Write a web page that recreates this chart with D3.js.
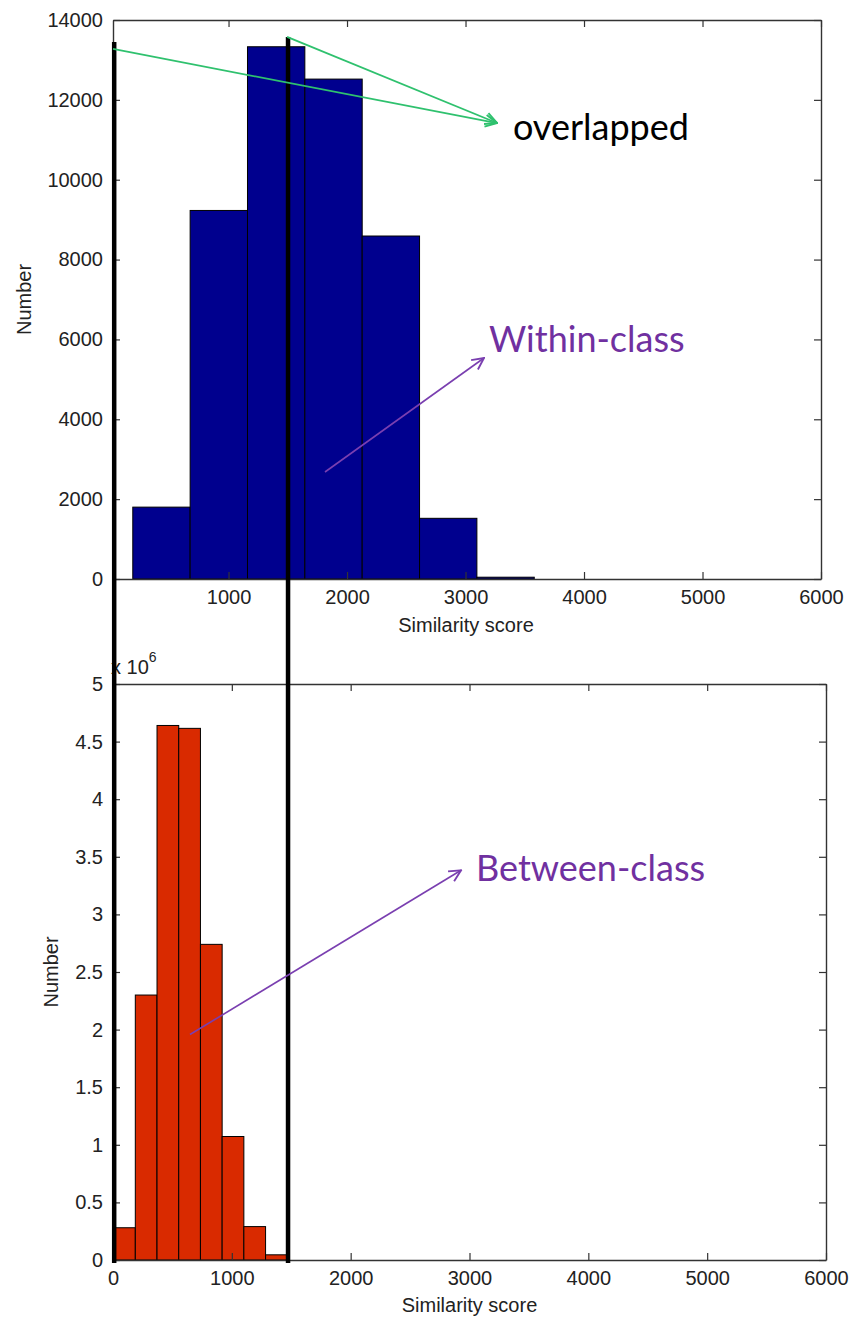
<!DOCTYPE html>
<html>
<head>
<meta charset="utf-8">
<script src="https://cdn.jsdelivr.net/npm/d3@7"></script>
<style>
  html, body { margin: 0; padding: 0; background: #fff; }
  svg { display: block; }
  .tick text { font-family: "Liberation Sans", Arial, sans-serif; font-size: 20px; fill: #222; }
  .axis-title { font-family: "Liberation Sans", Arial, sans-serif; font-size: 20px; fill: #222; }
  .note { font-family: Lato, "Open Sans", sans-serif; }
</style>
</head>
<body>
<svg id="fig" width="851" height="1322"></svg>
<script>
// ---- Within-class histogram (similarity scores of same-class pairs) ----
const withinStart = 192;      // left edge of first bin
const withinBinWidth = 484;   // bin width
const withinCounts = [1800, 9230, 13330, 12520, 8590, 1520, 45];
const withinYTicks = [0, 2000, 4000, 6000, 8000, 10000, 12000, 14000];
const withinXTicks = [1000, 2000, 3000, 4000, 5000, 6000];

// ---- Between-class histogram (values in units of 10^6) ----
const betweenStart = 5;
const betweenBinWidth = 182.7;
const betweenCounts = [0.28, 2.30, 4.64, 4.615, 2.74, 1.072, 0.29, 0.045];
const betweenYTicks = [0, 0.5, 1, 1.5, 2, 2.5, 3, 3.5, 4, 4.5, 5];
const betweenXTicks = [0, 1000, 2000, 3000, 4000, 5000, 6000];

// Score thresholds marked across both panels
const thresholds = [10, 1473];

const svg = d3.select("#fig");

// Panel scales
const xTop = d3.scaleLinear().domain([25, 6000]).range([113, 821]);
const yTop = d3.scaleLinear().domain([0, 14000]).range([579, 20]);
const xBot = d3.scaleLinear().domain([0, 6000]).range([113, 826]);
const yBot = d3.scaleLinear().domain([0, 5]).range([1260, 684]);

function bins(start, width, counts) {
  return counts.map((c, i) => ({ x0: start + i * width, x1: start + (i + 1) * width, v: c }));
}

function drawPanel(x, y, data, color, xTicks, yTicks, yFmt) {
  const g = svg.append("g");
  g.selectAll("rect").data(data).join("rect")
    .attr("x", d => x(d.x0))
    .attr("y", d => y(d.v))
    .attr("width", d => x(d.x1) - x(d.x0))
    .attr("height", d => y(0) - y(d.v))
    .attr("fill", color)
    .attr("stroke", "#000")
    .attr("stroke-width", 1);

  const [x0, x1] = x.range();
  const [y0, y1] = y.range();
  const tick = 7;

  const axB = g.append("g").attr("transform", `translate(0,${y0})`)
    .call(d3.axisBottom(x).tickValues(xTicks).tickSizeInner(-tick).tickSizeOuter(0).tickPadding(11).tickFormat(d3.format("d")));
  const axT = g.append("g").attr("transform", `translate(0,${y1})`)
    .call(d3.axisTop(x).tickValues(xTicks).tickSizeInner(-tick).tickSizeOuter(0).tickFormat(""));
  const axL = g.append("g").attr("transform", `translate(${x0},0)`)
    .call(d3.axisLeft(y).tickValues(yTicks).tickSizeInner(-tick).tickSizeOuter(0).tickPadding(10).tickFormat(yFmt));
  const axR = g.append("g").attr("transform", `translate(${x1},0)`)
    .call(d3.axisRight(y).tickValues(yTicks).tickSizeInner(-tick).tickSizeOuter(0).tickFormat(""));
  [axB, axT, axL, axR].forEach(a => {
    a.select(".domain").attr("stroke", "#333").attr("stroke-width", 1.4);
    a.selectAll(".tick line").attr("stroke", "#333").attr("stroke-width", 1.2);
  });
  return g;
}

drawPanel(xTop, yTop, bins(withinStart, withinBinWidth, withinCounts), "#00008e",
  withinXTicks, withinYTicks, d3.format("d"));
drawPanel(xBot, yBot, bins(betweenStart, betweenBinWidth, betweenCounts), "#d92a00",
  betweenXTicks, betweenYTicks, d => String(d));

// Axis titles
svg.append("text").attr("class", "axis-title")
  .attr("x", 466).attr("y", 632)
  .attr("text-anchor", "middle").text("Similarity score");
svg.append("text").attr("class", "axis-title")
  .attr("x", (xBot.range()[0] + xBot.range()[1]) / 2).attr("y", 1312)
  .attr("text-anchor", "middle").text("Similarity score");
svg.append("text").attr("class", "axis-title")
  .attr("transform", `translate(31,${(yTop.range()[0] + yTop.range()[1]) / 2}) rotate(-90)`)
  .attr("text-anchor", "middle").text("Number");
svg.append("text").attr("class", "axis-title")
  .attr("transform", `translate(58,${(yBot.range()[0] + yBot.range()[1]) / 2}) rotate(-90)`)
  .attr("text-anchor", "middle").text("Number");

// Exponent label of the lower panel
const expo = svg.append("text").attr("class", "axis-title")
  .attr("x", xBot(0) - 2).attr("y", yBot(5) - 10);
expo.append("tspan").text("x 10");
expo.append("tspan").attr("dy", -12).attr("font-size", 14).text("6");

// Threshold lines spanning both panels
const topEnds = [13450, 13576];
svg.selectAll("line.thr").data(thresholds).join("line")
  .attr("class", "thr")
  .attr("x1", d => xBot(d)).attr("x2", d => xBot(d))
  .attr("y1", (d, i) => yTop(topEnds[i]))
  .attr("y2", yBot(0) + 3)
  .attr("stroke", "#000").attr("stroke-width", 4.5);

// Arrowhead markers
const defs = svg.append("defs");
function marker(id, color) {
  defs.append("marker").attr("id", id)
    .attr("viewBox", "0 0 12 12").attr("refX", 11).attr("refY", 6)
    .attr("markerWidth", 14).attr("markerHeight", 14)
    .attr("markerUnits", "userSpaceOnUse").attr("orient", "auto")
    .append("path").attr("d", "M1,1 L11,6 L1,11")
    .attr("fill", "none").attr("stroke", color).attr("stroke-width", 1.6);
}
marker("arrGreen", "#2fc16e");
marker("arrPurple", "#7a3fb0");

// "overlapped" callout
const tip = [xTop(3266), yTop(11420)];
[[xTop(25), yTop(13274)], [xBot(thresholds[1]) - 1, yTop(13576)]].forEach(p => {
  svg.append("line")
    .attr("x1", p[0]).attr("y1", p[1]).attr("x2", tip[0]).attr("y2", tip[1])
    .attr("stroke", "#2fc16e").attr("stroke-width", 1.8)
    .attr("marker-end", "url(#arrGreen)");
});
svg.append("text").attr("class", "note")
  .attr("x", xTop(3400)).attr("y", yTop(10995))
  .attr("font-size", 36).attr("fill", "#000").text("overlapped");

// "Within-class" callout
svg.append("line")
  .attr("x1", xTop(1814)).attr("y1", yTop(2680))
  .attr("x2", xTop(3156)).attr("y2", yTop(5535))
  .attr("stroke", "#7a3fb0").attr("stroke-width", 1.6)
  .attr("marker-end", "url(#arrPurple)");
svg.append("text").attr("class", "note")
  .attr("x", xTop(3198)).attr("y", yTop(5685))
  .attr("font-size", 36).attr("fill", "#7030a0").text("Within-class");

// "Between-class" callout
svg.append("line")
  .attr("x1", xBot(648)).attr("y1", yBot(1.957))
  .attr("x2", xBot(2929)).attr("y2", yBot(3.383))
  .attr("stroke", "#7a3fb0").attr("stroke-width", 1.6)
  .attr("marker-end", "url(#arrPurple)");
svg.append("text").attr("class", "note")
  .attr("x", xBot(3055)).attr("y", yBot(3.287))
  .attr("font-size", 36).attr("fill", "#7030a0").text("Between-class");
</script>
</body>
</html>
